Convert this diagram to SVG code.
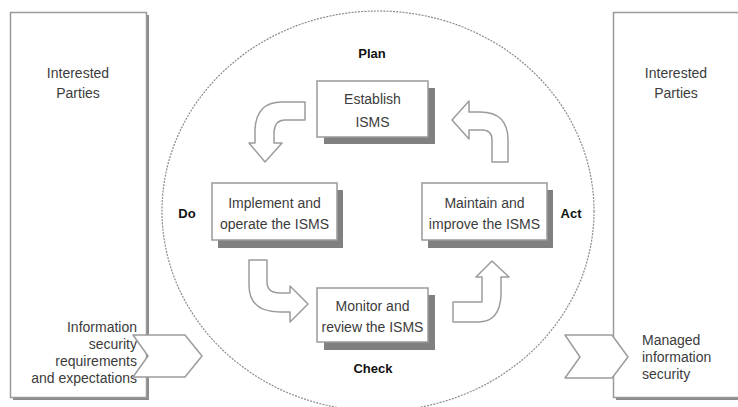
<svg xmlns="http://www.w3.org/2000/svg" width="738" height="407" viewBox="0 0 738 407">
  <style>
    .txt{font-family:"Liberation Sans",Arial,sans-serif;font-size:14px;fill:#3c3c3c}
    .mid{text-anchor:middle}
    .end{text-anchor:end}
    .lbl{font-family:"Liberation Sans",Arial,sans-serif;font-size:13px;font-weight:bold;fill:#111;text-anchor:middle}
    .box{fill:#fff;stroke:#9a9a9a;stroke-width:1.5}
    .shadow{fill:#808080}
    .oshadow{fill:#8c8c8c}
    .arrow{fill:#fff;stroke:#9c9c9c;stroke-width:1.5;stroke-linejoin:round}
    .cycle{fill:none;stroke:#8a8a8a;stroke-width:1.2;stroke-dasharray:2 1.2}
  </style>
  <rect width="738" height="407" fill="#fff"/>

  <!-- PDCA cycle boundary -->
  <ellipse class="cycle" cx="378" cy="211" rx="216" ry="200"/>

  <!-- outer parties, left -->
  <g id="parties-left">
    <rect class="oshadow" x="13" y="15" width="136" height="385"/>
    <rect class="box" x="10.5" y="12.5" width="136" height="385"/>
    <text class="txt mid" x="78" y="78">Interested</text>
    <text class="txt mid" x="78" y="98">Parties</text>
    <text class="txt end" x="137" y="332">Information</text>
    <text class="txt end" x="137" y="349">security</text>
    <text class="txt end" x="137" y="366">requirements</text>
    <text class="txt end" x="137" y="383">and expectations</text>
  </g>

  <!-- outer parties, right -->
  <g id="parties-right">
    <rect class="oshadow" x="616" y="15" width="130" height="385"/>
    <rect class="box" x="613.5" y="12.5" width="130" height="385"/>
    <text class="txt mid" x="676" y="78">Interested</text>
    <text class="txt mid" x="676" y="98">Parties</text>
    <text class="txt" x="642" y="345">Managed</text>
    <text class="txt" x="642" y="362">information</text>
    <text class="txt" x="642" y="379">security</text>
  </g>

  <!-- phase labels -->
  <g id="phase-labels">
    <text class="lbl" x="372" y="58">Plan</text>
    <text class="lbl" x="187" y="218">Do</text>
    <text class="lbl" x="571" y="218">Act</text>
    <text class="lbl" x="373" y="373">Check</text>
  </g>

  <!-- process steps -->
  <g id="establish">
    <rect class="shadow" x="324" y="88" width="111" height="56"/>
    <rect class="box" x="317" y="81" width="111" height="56"/>
    <text class="txt mid" x="372.5" y="104">Establish</text>
    <text class="txt mid" x="372.5" y="127">ISMS</text>
  </g>
  <g id="implement">
    <rect class="shadow" x="218" y="190" width="125" height="58"/>
    <rect class="box" x="212" y="183" width="125" height="57"/>
    <text class="txt mid" x="274.5" y="208">Implement and</text>
    <text class="txt mid" x="274.5" y="229">operate the ISMS</text>
  </g>
  <g id="maintain">
    <rect class="shadow" x="428" y="190" width="125" height="58"/>
    <rect class="box" x="422" y="183" width="125" height="57"/>
    <text class="txt mid" x="484.5" y="208">Maintain and</text>
    <text class="txt mid" x="484.5" y="229">improve the ISMS</text>
  </g>
  <g id="monitor">
    <rect class="shadow" x="324" y="295" width="111" height="55"/>
    <rect class="box" x="317" y="288" width="111" height="54"/>
    <text class="txt mid" x="372.5" y="311">Monitor and</text>
    <text class="txt mid" x="372.5" y="332">review the ISMS</text>
  </g>

  <!-- connectors -->
  <g id="connectors">
    <!-- Establish -> Implement -->
    <path class="arrow" d="M305 102 L282 102 Q256 102 255 130 L255 143 L249 143 L265 162 L282 143 L274 143 L274 132 Q275 120 285 120 L305 120 Z"/>
    <!-- Implement -> Monitor -->
    <path class="arrow" d="M249 260 L267 260 L267 282 Q267 293 280 293 L290 293 L290 286 L308 304 L290 322 L290 312 L280 312 Q249 312 249 285 Z"/>
    <!-- Monitor -> Maintain -->
    <path class="arrow" d="M453 302 L482 302 L482 277 L476 277 L492 261 L509 277 L501 277 L501 295 Q500 322 478 322 L453 322 Z"/>
    <!-- Maintain -> Establish -->
    <path class="arrow" d="M492 162 L508 162 L508 140 Q508 112 480 112 L469 112 L469 101 L452 120 L469 139 L469 130 L482 130 Q492 130 492 140 Z"/>
    <!-- requirements in -->
    <path class="arrow" d="M133 335 L185 335 L202 356 L185 377 L133 377 L148 356 Z"/>
    <!-- managed security out -->
    <path class="arrow" d="M565 335 L612 335 L628 357 L612 378 L565 378 L580 357 Z"/>
  </g>
</svg>
